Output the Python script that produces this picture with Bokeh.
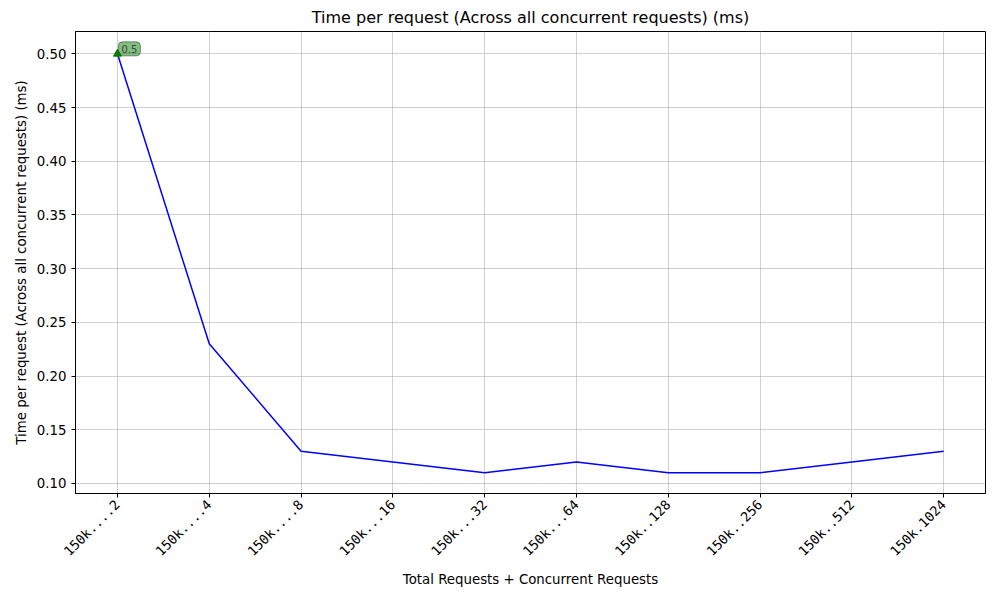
import math
from bokeh.plotting import figure
from bokeh.models import Range1d, FixedTicker, Label, NumeralTickFormatter
from bokeh.embed import file_html
from bokeh.resources import INLINE

labels = ["150k....2", "150k....4", "150k....8", "150k...16", "150k...32",
          "150k...64", "150k..128", "150k..256", "150k..512", "150k.1024"]
values = [0.50, 0.23, 0.13, 0.12, 0.11, 0.12, 0.11, 0.11, 0.12, 0.13]
xs = list(range(len(labels)))

p = figure(width=992, height=592, output_backend="svg", toolbar_location=None,
           title="Time per request (Across all concurrent requests) (ms)",
           x_range=Range1d(-0.457, 9.455), y_range=Range1d(0.0906, 0.5208),
           min_border_left=75, min_border_right=7, min_border_top=10, min_border_bottom=99)
p.title.align = "center"
p.title.text_font_style = "normal"
p.title.text_font_size = "12pt"
p.title.text_font = "DejaVu Sans"
p.title.text_color = "black"

p.line(xs, values, line_color="blue", line_width=1.5)
p.scatter([xs[0]], [values[0]], marker="triangle", size=8, color="green")
p.add_layout(Label(x=xs[0], y=values[0], text="0.5", text_font_size="7.5pt",
                   text_font="DejaVu Sans", x_offset=1, y_offset=-2,
                   background_fill_color="green", background_fill_alpha=0.5,
                   border_line_color="#444444", border_line_alpha=0.6,
                   border_radius=4, padding=3))

p.xaxis.ticker = FixedTicker(ticks=xs)
p.xaxis.major_label_overrides = {i: l for i, l in enumerate(labels)}
p.xaxis.major_label_orientation = math.pi / 4
p.xaxis.major_label_text_font = "DejaVu Sans Mono"
p.yaxis.ticker = FixedTicker(ticks=[0.10, 0.15, 0.20, 0.25, 0.30, 0.35, 0.40, 0.45, 0.50])
p.yaxis.formatter = NumeralTickFormatter(format="0.00")
for ax in (p.xaxis, p.yaxis):
    ax.major_label_text_font_size = "10pt"
    ax.major_label_text_color = "black"
    ax.axis_label_text_font_style = "normal"
    ax.axis_label_text_font_size = "10pt"
    ax.axis_label_text_font = "DejaVu Sans"
    ax.axis_label_text_color = "black"
    ax.minor_tick_line_color = None
    ax.major_tick_out = 4
    ax.major_tick_in = 0
p.yaxis.major_label_text_font = "DejaVu Sans"
p.xaxis.axis_label = "Total Requests + Concurrent Requests"
p.yaxis.axis_label = "Time per request (Across all concurrent requests) (ms)"
p.grid.grid_line_color = "#b0b0b0"
p.grid.grid_line_alpha = 0.6
p.outline_line_color = "black"

open("out.html", "w").write(file_html(p, INLINE))
